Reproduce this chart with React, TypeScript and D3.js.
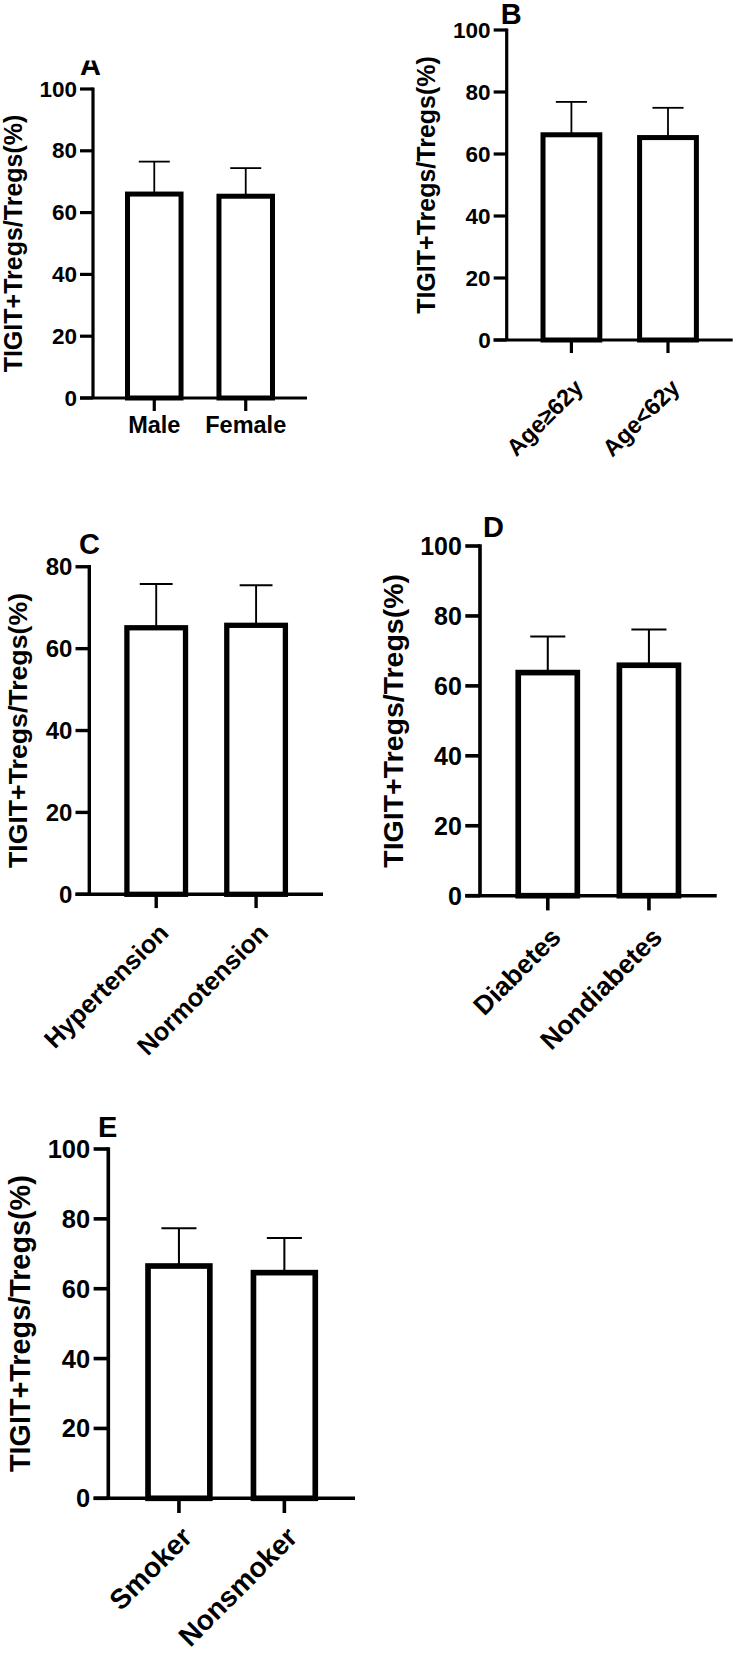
import React from 'react';
import * as d3 from 'd3';

// ---- data ----
const catsA = ['Male', 'Female'];
const meanA = [66.0, 65.3];
const sdA = [10.5, 9.1];

const catsB = ['Age\u226562y', 'Age<62y'];
const meanB = [66.2, 65.3];
const sdB = [10.6, 9.6];

const catsC = ['Hypertension', 'Normotension'];
const meanC = [65.1, 65.7];
const sdC = [10.7, 9.8];

const catsD = ['Diabetes', 'Nondiabetes'];
const meanD = [63.8, 65.9];
const sdD = [10.3, 10.2];

const catsE = ['Smoker', 'Nonsmoker'];
const meanE = [66.5, 64.6];
const sdE = [10.8, 9.9];

const ticks100 = [0, 20, 40, 60, 80, 100];
const ticks80 = [0, 20, 40, 60, 80];

const yTitle = 'TIGIT+Tregs/Tregs(%)';
const FONT = '"Liberation Sans", Arial, Helvetica, sans-serif';

type PanelProps = {
  letter: string;
  cats: string[];
  means: number[];
  sds: number[];
  ticks: number[];
  yMax: number;
  axisX: number;
  xEnd: number;
  y0: number;
  yTop: number;
  letterX: number;
  letterY: number;
  letterClipTop?: number;
  titleX: number;
  rotated: boolean;
  labelDy: number;
  labelBaseline?: number;
  catFont: number;
  tickFont: number;
  titleFont: number;
};

function Panel(p: PanelProps) {
  const s = (p.y0 - p.yTop) / 309;
  const y = d3.scaleLinear().domain([0, p.yMax]).range([p.y0, p.yTop]);
  const x = d3.scalePoint<string>().domain(p.cats).range([p.axisX, p.xEnd]).padding(0.67);
  const step = x.step();
  const barSW = 5 * s;
  const barW = 0.64 * step - barSW;
  const axisSW = 3.2 * s;
  const tickLen = 13 * s;
  const capW = 31 * s;
  const errSW = 1.8 * s;
  const clipId = 'clip-' + p.letter;
  return (
    <g>
      {p.letterClipTop !== undefined && (
        <defs>
          <clipPath id={clipId}>
            <rect x={0} y={p.letterClipTop} width={740} height={200} />
          </clipPath>
        </defs>
      )}
      <text
        x={p.letterX}
        y={p.letterY}
        fontFamily={FONT}
        fontWeight="bold"
        fontSize={29}
        clipPath={p.letterClipTop !== undefined ? `url(#${clipId})` : undefined}
      >
        {p.letter}
      </text>
      {p.cats.map((c, i) => {
        const cx = x(c)!;
        const top = y(p.means[i]);
        const et = y(p.means[i] + p.sds[i]);
        return (
          <g key={c}>
            <line x1={cx} x2={cx} y1={top} y2={et} stroke="#000" strokeWidth={errSW} />
            <line x1={cx - capW / 2} x2={cx + capW / 2} y1={et} y2={et} stroke="#000" strokeWidth={errSW} />
            <rect
              x={cx - barW / 2}
              y={top}
              width={barW}
              height={p.y0 - top}
              fill="#fff"
              stroke="#000"
              strokeWidth={barSW}
            />
          </g>
        );
      })}
      <line x1={p.axisX} x2={p.axisX} y1={y(p.yMax) - axisSW / 2} y2={p.y0} stroke="#000" strokeWidth={axisSW} />
      {p.ticks.map((t) => (
        <g key={t}>
          <line x1={p.axisX - tickLen} x2={p.axisX} y1={y(t)} y2={y(t)} stroke="#000" strokeWidth={axisSW} />
          <text
            x={p.axisX - 16 * s}
            y={y(t)}
            textAnchor="end"
            dominantBaseline="central"
            fontFamily={FONT}
            fontWeight="bold"
            fontSize={p.tickFont}
          >
            {t}
          </text>
        </g>
      ))}
      <line x1={p.axisX - tickLen} x2={p.xEnd} y1={p.y0} y2={p.y0} stroke="#000" strokeWidth={axisSW} />
      {p.cats.map((c) => {
        const cx = x(c)!;
        return (
          <g key={'t' + c}>
            <line x1={cx} x2={cx} y1={p.y0} y2={p.y0 + tickLen} stroke="#000" strokeWidth={axisSW} />
            {p.rotated ? (
              <text
                transform={`translate(${cx + 13 * s},${p.y0 + tickLen + p.labelDy * s}) rotate(-45)`}
                textAnchor="end"
                fontFamily={FONT}
                fontWeight="bold"
                fontSize={p.catFont}
              >
                {c}
              </text>
            ) : (
              <text
                x={cx}
                y={p.labelBaseline}
                textAnchor="middle"
                fontFamily={FONT}
                fontWeight="bold"
                fontSize={p.catFont}
              >
                {c}
              </text>
            )}
          </g>
        );
      })}
      <text
        transform={`translate(${p.titleX},${(p.y0 + y(p.yMax)) / 2}) rotate(-90)`}
        textAnchor="middle"
        fontFamily={FONT}
        fontWeight="bold"
        fontSize={p.titleFont}
      >
        {yTitle}
      </text>
    </g>
  );
}

export default function App() {
  return (
    <div style={{ position: 'absolute', left: 0, top: 0 }}>
      <svg width={740} height={1653} viewBox="0 0 740 1653" style={{ display: 'block', background: '#fff' }}>
        <rect x={0} y={0} width={740} height={1653} fill="#fff" />
        <Panel
          letter="A" cats={catsA} means={meanA} sds={sdA} ticks={ticks100} yMax={100}
          axisX={93} xEnd={307} y0={398} yTop={89}
          letterX={80} letterY={75} letterClipTop={60.5}
          titleX={21.7} rotated={false} labelDy={0} labelBaseline={433}
          catFont={23.5} tickFont={22.5} titleFont={25}
        />
        <Panel
          letter="B" cats={catsB} means={meanB} sds={sdB} ticks={ticks100} yMax={100}
          axisX={506.7} xEnd={732.7} y0={340} yTop={30}
          letterX={500.7} letterY={24}
          titleX={435} rotated={true} labelDy={36}
          catFont={23.5} tickFont={22.5} titleFont={25}
        />
        <Panel
          letter="C" cats={catsC} means={meanC} sds={sdC} ticks={ticks80} yMax={80}
          axisX={89.3} xEnd={323} y0={894.3} yTop={894.3 - 309 * 1.06}
          letterX={79} letterY={554}
          titleX={26.7} rotated={true} labelDy={25}
          catFont={25.5} tickFont={24} titleFont={26.7}
        />
        <Panel
          letter="D" cats={catsD} means={meanD} sds={sdD} ticks={ticks100} yMax={100}
          axisX={480} xEnd={716.7} y0={895.7} yTop={546}
          letterX={483} letterY={537}
          titleX={403.3} rotated={true} labelDy={25}
          catFont={26.5} tickFont={25} titleFont={28.5}
        />
        <Panel
          letter="E" cats={catsE} means={meanE} sds={sdE} ticks={ticks100} yMax={100}
          axisX={108.3} xEnd={355} y0={1498.3} yTop={1149}
          letterX={98} letterY={1137}
          titleX={30} rotated={true} labelDy={23}
          catFont={28} tickFont={25.5} titleFont={28.8}
        />
      </svg>
    </div>
  );
}
